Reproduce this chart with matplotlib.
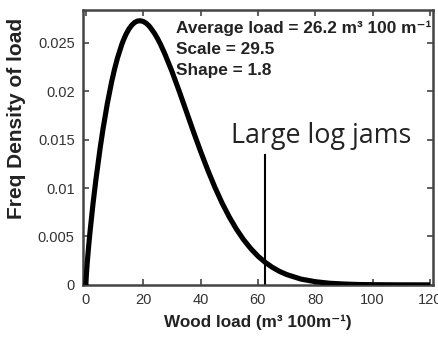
import matplotlib.pyplot as plt

# wood load density curve (values read at fixed loads)
load = [0, 0.2, 0.5, 1, 1.5, 2.5, 3.5, 5, 6, 7.5, 9, 10, 11, 12.5, 13, 14,
        15, 16, 17, 18, 19, 20, 21, 22, 22.5, 24, 25, 26, 27.5, 30, 32.5, 35,
        37.5, 40, 42.5, 45, 47.5, 50, 52.5, 55, 57.5, 60, 62.5, 65, 67.5, 70,
        75, 80, 85, 90, 95, 100, 110, 120]
density = [0, 0.00112, 0.00234, 0.00406, 0.00560, 0.00838, 0.01085, 0.01416,
           0.01612, 0.01874, 0.02098, 0.02227, 0.02340, 0.02480, 0.02520,
           0.02588, 0.02642, 0.02682, 0.02710, 0.02725, 0.02728, 0.02721,
           0.02703, 0.02676, 0.02658, 0.02595, 0.02544, 0.02487, 0.02389,
           0.02207, 0.02005, 0.01795, 0.01584, 0.01380, 0.01187, 0.01008,
           0.00846, 0.00702, 0.00576, 0.00467, 0.00375, 0.00297, 0.00234,
           0.00182, 0.00140, 0.00107, 0.00060, 0.00033, 0.00017, 0.00009,
           0.00004, 0.00002, 0.000004, 0.000001]

jam_load = 62.5
jam_top = 0.0134
xticks = [0, 20, 40, 60, 80, 100, 120]
yticks = [0, 0.005, 0.01, 0.015, 0.02, 0.025]
ytick_labels = ["0", "0.005", "0.01", "0.015", "0.02", "0.025"]
fit_lines = ["Average load = 26.2 m\u00b3 100 m\u207b\u00b9",
             "Scale = 29.5",
             "Shape = 1.8"]
fit_y = [0.02645, 0.02428, 0.0221]

plt.rcParams["font.family"] = ["Liberation Sans", "DejaVu Sans"]

fig = plt.figure(figsize=(4.39, 3.42), dpi=100)
ax = fig.add_axes([0.189, 0.167, 0.797, 0.804])

ax.plot(load, density, color="black", lw=3.7, solid_capstyle="butt",
        solid_joinstyle="round", zorder=3)
ax.plot([jam_load, jam_load], [0, jam_top], color="black", lw=1.5)
ax.text(50.6, 0.01467, "Large log jams", fontsize=19.4, family="Open Sans",
        color="#222222", va="baseline")

for line, y in zip(fit_lines, fit_y):
    ax.text(31.5, y, line, fontsize=12.4, fontweight="bold", color="#222222",
            va="center")

ax.set_xlim(-1, 121)
ax.set_ylim(0, 0.0284)
ax.set_xticks(xticks)
ax.set_yticks(yticks)
ax.set_yticklabels(ytick_labels)
ax.tick_params(direction="in", top=True, right=True, length=4, width=1.2,
               color="#444444", labelsize=10.5, labelcolor="#333333", pad=6)

for s in ax.spines.values():
    s.set_linewidth(1.8)
    s.set_color("#444444")

ax.set_xlabel("Wood load (m\u00b3 100m\u207b\u00b9)", fontsize=12.3,
              fontweight="bold", color="#222222", labelpad=5)
ax.set_ylabel("Freq Density of load", fontsize=15, fontweight="bold",
              color="#222222")
ax.yaxis.set_label_coords(-0.163, 0.605)

fig.savefig("out.png", dpi=100)
